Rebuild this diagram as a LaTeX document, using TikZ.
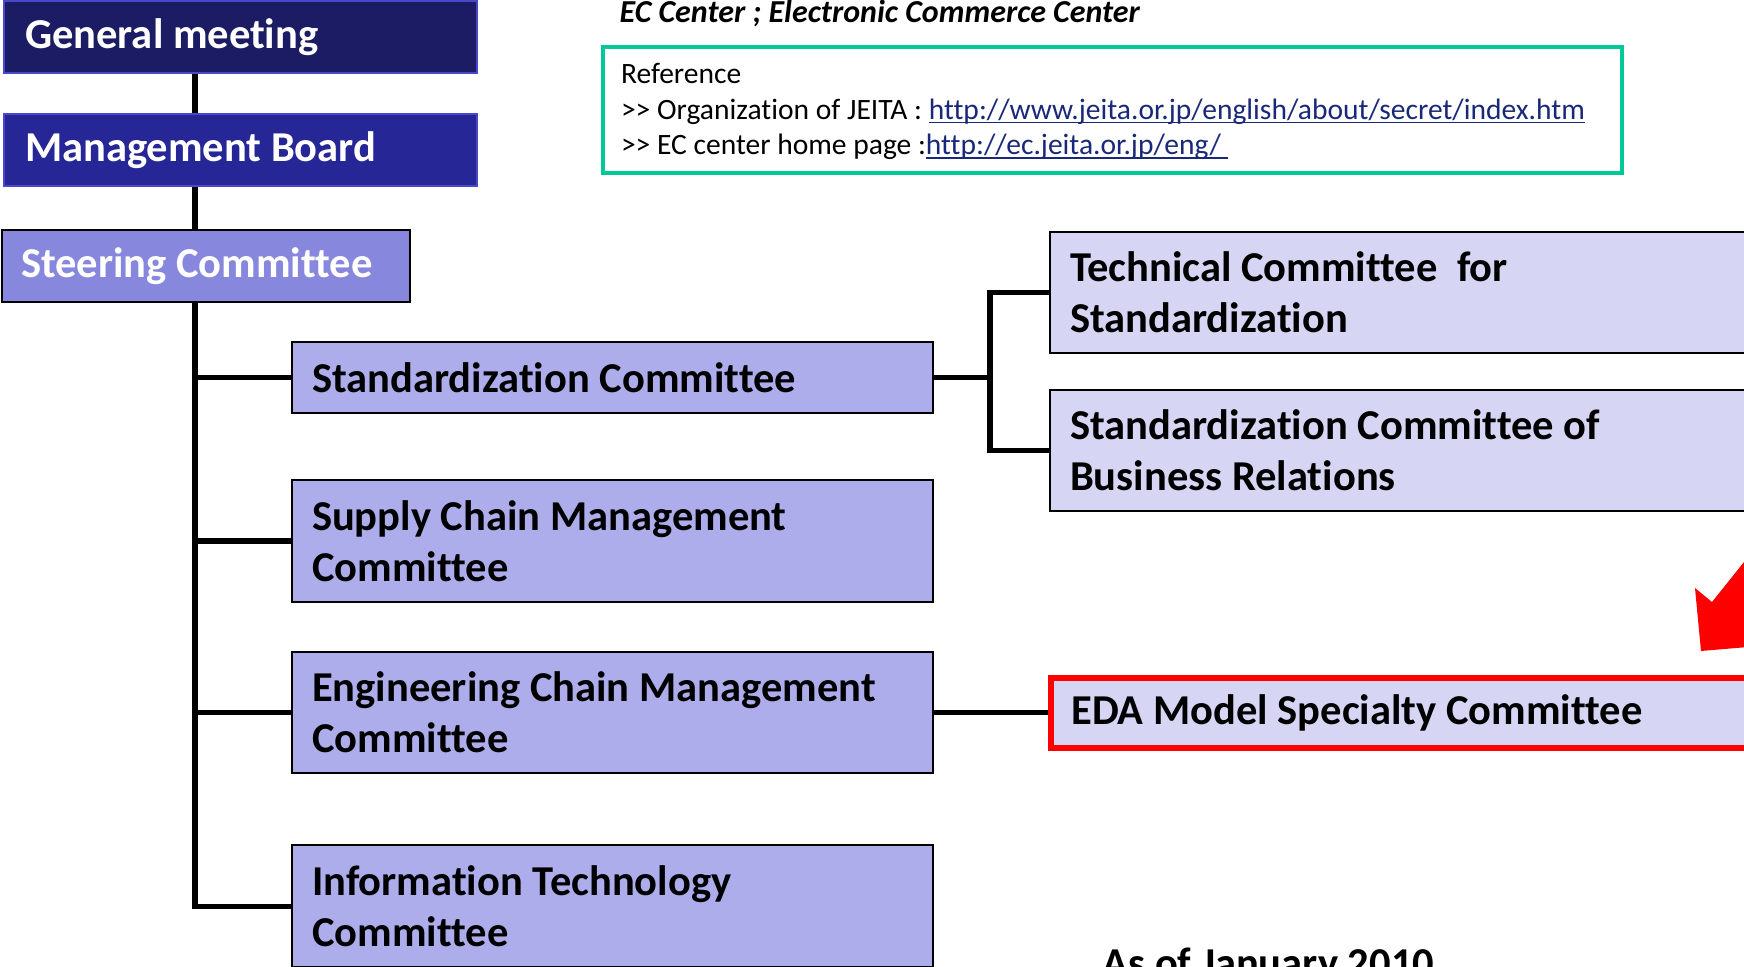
\documentclass[tikz,border=0pt]{standalone}
\usepackage{fontspec}
\setmainfont{Carlito}[Ligatures=NoCommon]
\usepackage{xcolor}
\usetikzlibrary{positioning}
\definecolor{gmblue}{RGB}{28,28,100}
\definecolor{mbblue}{RGB}{38,38,150}
\definecolor{edgeblue}{RGB}{72,72,205}
\definecolor{scblue}{RGB}{135,135,222}
\definecolor{cmblue}{RGB}{173,173,235}
\definecolor{wgblue}{RGB}{214,214,244}
\definecolor{refgreen}{RGB}{0,200,150}
\definecolor{linkblue}{RGB}{25,40,120}
\newcommand\boxfont{\fontsize{12.1}{14.5}\selectfont\bfseries}
\newcommand\reffont{\fontsize{8.4}{10.1}\selectfont}
\newcommand\weblink[1]{\textcolor{linkblue}{\setbox0\hbox{#1}\rlap{\rule[-1.1pt]{\wd0}{0.5pt}}\box0}}
\tikzset{plain space/.style={execute at begin node={\spaceskip=0pt\xspaceskip=0pt}},
head node/.style={rectangle,draw=edgeblue,line width=0.57pt,text=white,font=\boxfont,align=left,plain space,inner xsep=0.21cm,minimum height=0.72cm},
steer node/.style={head node,draw=black,fill=scblue,inner xsep=0.19cm,minimum height=0.72cm},
comm node/.style={rectangle,draw=black,line width=0.57pt,fill=cmblue,font=\boxfont,align=left,plain space,inner xsep=0.2cm,text width=6.01cm},
wg node/.style={comm node,fill=wgblue,text width=6.71cm},
ref node/.style={rectangle,draw=refgreen,line width=1.14pt,font=\reffont,align=left,plain space,inner xsep=0.18cm,text width=9.82cm,minimum height=1.26cm},
link/.style={line width=1.5pt}}

\begin{document}
\begin{tikzpicture}[x=0.01cm,y=-0.01cm,node distance=0.5cm]
    \useasboundingbox (0,0) rectangle (1744,967);
    \clip (0,0) rectangle (1744,967);

    \node[head node,fill=gmblue,text width=4.31cm,anchor=north west] (gm) at (3,0) {General meeting};
    \node[head node,fill=mbblue,text width=4.31cm] (mb) [below=0.39cm of gm] {Management Board};
    \node[steer node,text width=3.70cm,anchor=north west] (sc) at (1,229) {Steering Committee};

    \node[comm node,minimum height=0.71cm,anchor=north west] (std) at (291,341) {Standardization Committee};
    \node[comm node,minimum height=1.22cm] (scm) [below=0.65cm of std] {Supply Chain Management\\Committee};
    \node[comm node,minimum height=1.21cm] (ecm) [below=0.48cm of scm] {Engineering Chain Management\\Committee};
    \node[comm node,minimum height=1.22cm] (itc) [below=0.70cm of ecm] {Information Technology\\Committee};

    \node[wg node,minimum height=1.21cm,anchor=north west] (tcs) at (1049,231) {Technical Committee\ \ for\\Standardization};
    \node[wg node,minimum height=1.21cm] (scbr) [below=0.35cm of tcs] {Standardization Committee of\\Business Relations};
    \node[wg node,draw=red,line width=1.6pt,minimum height=0.70cm,text width=6.73cm] (eda) [right=1.14cm of ecm] {EDA Model Specialty Committee};

    \node[anchor=base west,inner sep=0pt,font=\fontsize{9.1}{11}\selectfont\bfseries\itshape] (title) at (619,23) {EC Center ; Electronic Commerce Center};
    \node[ref node,anchor=north west] (ref) at (601,45) {\rule{0pt}{6.8pt}Reference\\
      >{}> Organization of JEITA : \weblink{http://www.jeita.or.jp/english/about/secret/index.htm}\\
      >{}> EC center home page :\weblink{http://ec.jeita.or.jp/eng/\ }};
    \node[anchor=base west,inner sep=0pt,font=\boxfont] (asof) at (1102,978) {As of January 2010};

    \coordinate (spine) at (195,0);
    \coordinate (fork) at (990,0);

    \draw[link] (gm.south -| spine) -- (mb.north -| spine);
    \draw[link] (mb.south -| spine) -- (sc.north -| spine);
    \draw[link] (sc.south -| spine) |- (std.west);
    \draw[link] (sc.south -| spine) |- (scm.west);
    \draw[link] (sc.south -| spine) |- (ecm.west);
    \draw[link] (sc.south -| spine) |- (itc.west);
    \draw[link] (std.east) -- (std.east -| fork);
    \draw[link] (tcs.west) -| (fork |- scbr.west) -- (scbr.west);
    \draw[link] (ecm.east) -- (eda.west);

    \fill[red] (1695,588) -- (1712,602) -- (1760,542) -- (1760,646) -- (1701,651) -- cycle;
\end{tikzpicture}
\end{document}
